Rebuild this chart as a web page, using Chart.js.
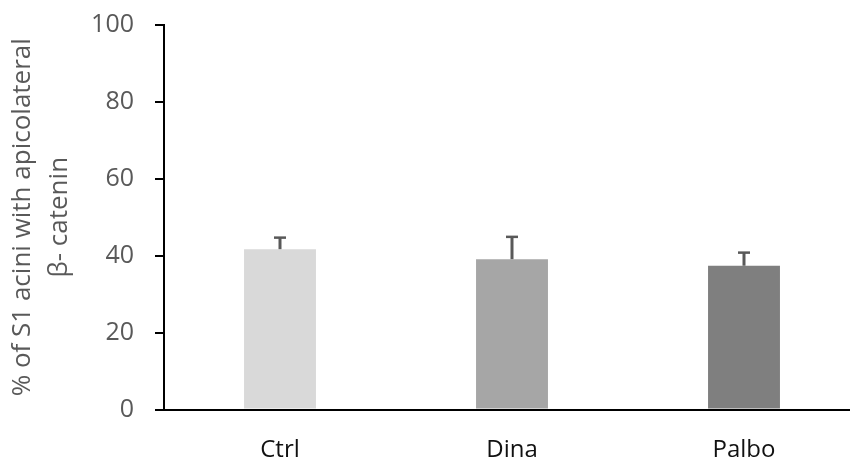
<!DOCTYPE html>
<html>
<head>
<meta charset="UTF-8">
<title>beta-catenin</title>
<script src="https://cdn.jsdelivr.net/npm/chart.js@4"></script>
<style>
  html, body { margin: 0; padding: 0; background: #fff; overflow: hidden; }
  #wrap { width: 850px; height: 464px; overflow: hidden; }
</style>
</head>
<body>
<div id="wrap"><canvas id="myChart" width="860" height="464"></canvas></div>
<script>
  var categories = ['Ctrl', 'Dina', 'Palbo']
  var means = [41.7, 39.1, 37.4]
  var errors = [3.0, 5.8, 3.4]
  var barColors = ['#d9d9d9', '#a6a6a6', '#7f7f7f']
  var yTitle = ['% of S1 acini with apicolateral', 'β- catenin']

  // error bars on top of each bar (upper side only)
  var errorBars = {
    id: 'errorBars',
    afterDatasetsDraw: function(chart) {
      var ctx = chart.ctx
      var y = chart.scales.y
      chart.getDatasetMeta(0).data.forEach(function(bar, i) {
        var top = y.getPixelForValue(means[i] + errors[i])
        ctx.save()
        ctx.strokeStyle = '#595959'
        ctx.lineWidth = 3
        ctx.beginPath()
        ctx.moveTo(bar.x, bar.y)
        ctx.lineTo(bar.x, top)
        ctx.stroke()
        ctx.lineWidth = 2.5
        ctx.beginPath()
        ctx.moveTo(bar.x - 6, top)
        ctx.lineTo(bar.x + 6, top)
        ctx.stroke()
        ctx.restore()
      })
    }
  }

  var ctx = document.getElementById('myChart').getContext('2d')
  var chart = new Chart(ctx, {
    type: 'bar',
    data: {
      labels: categories,
      datasets: [{
        data: means,
        backgroundColor: barColors,
        borderWidth: 0,
        barPercentage: 0.31,
        categoryPercentage: 1
      }]
    },
    options: {
      responsive: false,
      animation: false,
      layout: { padding: { top: 25, left: 0, right: 0, bottom: 0 } },
      plugins: { legend: { display: false }, tooltip: { enabled: false } },
      scales: {
        x: {
          grid: { display: false, drawTicks: false },
          border: { color: '#000', width: 2 },
          ticks: { color: '#111', padding: 26, font: { family: 'Open Sans', size: 24 } },
          afterFit: function(s) { s.height = 54.5 }
        },
        y: {
          min: 0,
          max: 100,
          ticks: { stepSize: 20, color: '#595959', padding: 21, font: { family: 'Open Sans', size: 25 } },
          grid: { drawOnChartArea: false, color: '#000', lineWidth: 2, tickLength: 9 },
          border: { color: '#000', width: 2 },
          title: {
            display: true,
            text: yTitle,
            color: '#595959',
            padding: { top: 4, bottom: 0 },
            font: { family: 'Open Sans', size: 26, lineHeight: 1.42 }
          },
          afterFit: function(s) {
            s.width = 164
            s.paddingTop = 0
            s.paddingBottom = 0
          }
        }
      }
    },
    plugins: [errorBars]
  })
</script>
</body>
</html>
